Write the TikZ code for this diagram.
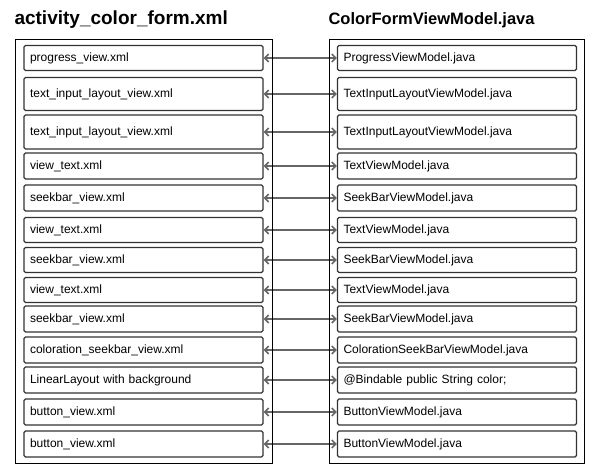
\documentclass[tikz,border=0pt]{standalone}
\usepackage{fontspec}
\setmainfont{Liberation Sans}
\usetikzlibrary{positioning, arrows.meta, fit}

\begin{document}
\begin{tikzpicture}[
    x=1pt, y=-1pt,
    title/.style={anchor=west, font=\fontsize{19}{22}\selectfont\bfseries},
    item/.style={rectangle, draw=black!80, line width=1.2pt, rounded corners=1.5pt,
        text width=227pt, align=left, inner xsep=6pt, inner ysep=0pt,
        font=\fontsize{12}{14}\selectfont},
    frame/.style={rectangle, draw=black, line width=0.8pt, inner xsep=8.5pt, inner ysep=6pt},
    link/.style={{Straight Barb[length=4pt, width=8pt]}-{Straight Barb[length=4pt, width=8pt]},
        draw=black!60, line width=1.6pt},
]
\useasboundingbox (0,0) rectangle (596,472);

%% TITLES
    \node[title] (layout_title) at (11,20) {activity\_color\_form.xml};
    \node[title, font=\fontsize{16.5}{20}\selectfont\bfseries] (model_title) at (325,20) {ColorFormViewModel.java};

%% ROWS
    % y / height / layout / view model
    \foreach \i/\y/\h/\lay/\vm in {
        1/58/25/{progress\_view.xml}/{ProgressViewModel.java},
        2/94/33/{text\_input\_layout\_view.xml}/{TextInputLayoutViewModel.java},
        3/132/34/{text\_input\_layout\_view.xml}/{TextInputLayoutViewModel.java},
        4/166/26/{view\_text.xml}/{TextViewModel.java},
        5/198/26/{seekbar\_view.xml}/{SeekBarViewModel.java},
        6/230/25/{view\_text.xml}/{TextViewModel.java},
        7/260/25/{seekbar\_view.xml}/{SeekBarViewModel.java},
        8/290/25/{view\_text.xml}/{TextViewModel.java},
        9/319/26/{seekbar\_view.xml}/{SeekBarViewModel.java},
        10/350/26/{coloration\_seekbar\_view.xml}/{ColorationSeekBarViewModel.java},
        11/380/26/{LinearLayout with background}/{@Bindable public String color;},
        12/412/26/{button\_view.xml}/{ButtonViewModel.java},
        13/444/26/{button\_view.xml}/{ButtonViewModel.java}}
    {
        \node[item, minimum height=\h pt] (lay\i) at (143.5,\y) {\lay};
        \node[item, minimum height=\h pt] (vm\i) at (457,\y) {\vm};
        \draw[link] (lay\i.east) -- (vm\i.west);
    }

%% FRAMES
    \node[frame, fit=(lay1) (lay13)] (layout_box) {};
    \node[frame, inner xsep=7.5pt, fit=(vm1) (vm13)] (model_box) {};

\end{tikzpicture}
\end{document}
